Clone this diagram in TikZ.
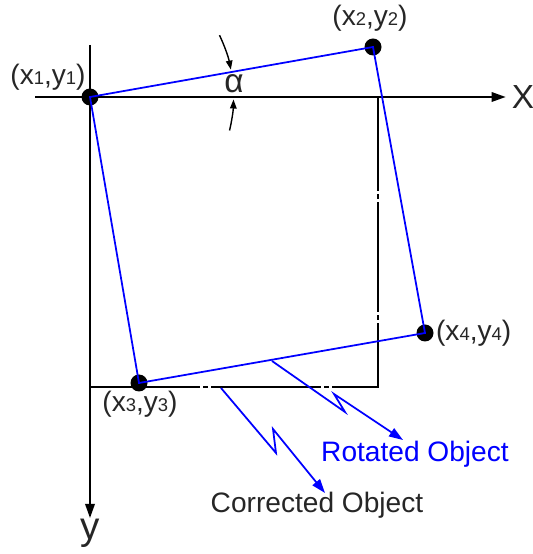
\documentclass[tikz,border=0pt]{standalone}
\usepackage{fontspec}
\setmainfont{Liberation Sans}
\usetikzlibrary{arrows.meta}
\newcommand{\ix}[1]{{\fontsize{10.5}{12}\selectfont #1}}

\begin{document}
\begin{tikzpicture}[every node/.style={font=\fontsize{16}{19}\selectfont, text=black!85}, >={Triangle[length=2.8mm,width=1.9mm]}, axis/.style={line width=1pt}, obj/.style={blue, line width=1pt}, corr/.style={line width=0.9pt, dash pattern=on 2.2cm off 0.06cm on 0.1cm off 0.06cm}, pt/.style={circle, fill=black, inner sep=0pt, minimum size=3.4mm}, bolt/.style={->, blue, line width=1pt, line join=miter}, anglemark/.style={-{Triangle[length=1.8mm,width=1.3mm]}, line width=0.8pt}]
	\useasboundingbox (0,0) rectangle (10.66,11.08);
	\coordinate (xs) at (0.7,9.14);
	\coordinate (ys) at (1.8,10.18);
	\coordinate (ye) at (1.8,0.72);
	\node[font=\fontsize{19}{22}\selectfont] (X) at (10.46,9.14) {X};
	\node[anchor=north, inner sep=0.5pt, font=\fontsize{22}{24}\selectfont] (Y) at (ye) {y};
	\draw[axis,->] (xs) -- (X.west);
	\draw[axis,->] (ys) -- (Y.north);
	\node[pt] (p1) at (1.8,9.14) {};
	\node[pt] (p2) at (7.46,10.14) {};
	\node[pt] (p3) at (2.78,3.42) {};
	\node[pt] (p4) at (8.5,4.42) {};
	\coordinate (c) at (7.56,3.34);
	\draw[corr] (p1.center |- c) -- (c) -- (c |- p1.center);
	\draw[obj] (p1.center) -- (p2.center) -- (p4.center) -- (p3.center) -- cycle;
	\draw[anglemark] (p1.center) ++(25.5:2.87) arc[start angle=25.5, end angle=11, radius=2.87];
	\draw[anglemark] (p1.center) ++(-13.5:2.87) arc[start angle=-13.5, end angle=-1, radius=2.87];
	\node[font=\fontsize{19}{22}\selectfont] (a) at (4.68,9.4) {α};
	\node (l1) at (0.96,9.54) {(x\ix1,y\ix1)};
	\node (l2) at (7.4,10.72) {(x\ix2,y\ix2)};
	\node (l3) at (2.8,3.0) {(x\ix3,y\ix3)};
	\node[anchor=west, inner sep=1pt] (l4) at (8.68,4.42) {(x\ix4,y\ix4)};
	\node[text=blue] (rot) at (8.3,2.0) {Rotated Object};
	\node (cor) at (6.34,0.98) {Corrected Object};
	\coordinate (r0) at (5.44,3.86);
	\coordinate (r1) at (6.9,2.84);
	\coordinate (r2) at (6.68,3.2);
	\coordinate (r3) at (8.06,2.28);
	\coordinate (k0) at (4.42,3.32);
	\coordinate (k1) at (5.52,2.02);
	\coordinate (k2) at (5.46,2.5);
	\coordinate (k3) at (6.5,1.22);
	\draw[bolt] (r0) -- (r1) -- (r2) -- (r3);
	\draw[bolt] (k0) -- (k1) -- (k2) -- (k3);
\end{tikzpicture}
\end{document}
